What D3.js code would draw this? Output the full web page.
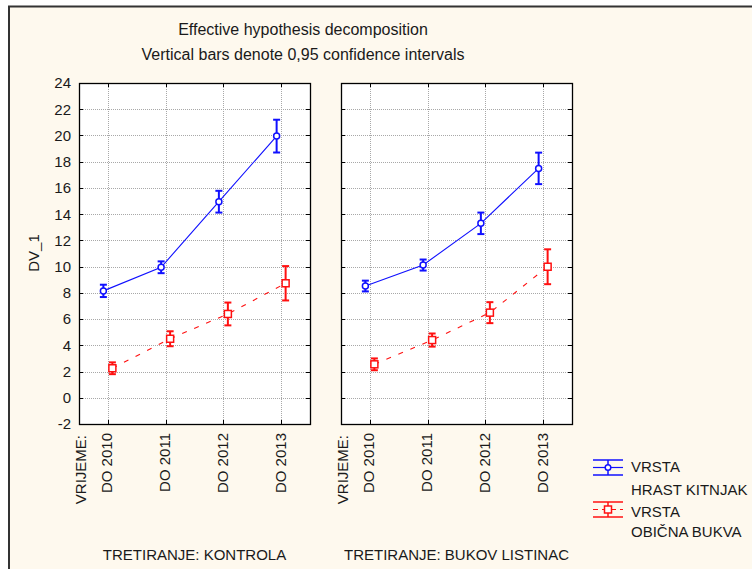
<!DOCTYPE html>
<html><head><meta charset="utf-8">
<script src="https://cdn.jsdelivr.net/npm/d3@7"></script>
<style>html,body{margin:0;padding:0;background:#fff;}svg{display:block;}text{font-family:"Liberation Sans",Arial,sans-serif;fill:#1a1a1a;}</style>
</head><body>
<script>
const categories = ["DO 2010", "DO 2011", "DO 2012", "DO 2013"];
const panelNames = ["TRETIRANJE: KONTROLA", "TRETIRANJE: BUKOV LISTINAC"];
const seriesNames = ["HRAST KITNJAK", "OBIČNA BUKVA"];
const kontrolaHrast = [8.15, 9.95, 14.95, 19.95];
const kontrolaHrastCI = [0.47, 0.45, 0.83, 1.25];
const kontrolaBukva = [2.25, 4.5, 6.39, 8.73];
const kontrolaBukvaCI = [0.45, 0.57, 0.87, 1.31];
const listinacHrast = [8.52, 10.12, 13.3, 17.49];
const listinacHrastCI = [0.41, 0.42, 0.82, 1.2];
const listinacBukva = [2.55, 4.4, 6.49, 9.99];
const listinacBukvaCI = [0.45, 0.5, 0.8, 1.33];
const yTicks = [-2, 0, 2, 4, 6, 8, 10, 12, 14, 16, 18, 20, 22, 24];
const titleLines = ["Effective hypothesis decomposition", "Vertical bars denote 0,95 confidence intervals"];

const W = 752, H = 569;
const svg = d3.select("body").append("svg").attr("width", W).attr("height", H);
svg.append("rect").attr("x", 0).attr("y", 0).attr("width", W).attr("height", H).attr("fill", "#fff");
svg.append("rect").attr("x", 9).attr("y", 6).attr("width", W - 9).attr("height", H - 6).attr("fill", "#FEF9EE");
svg.append("line").attr("x1", 9).attr("x2", 9).attr("y1", 6).attr("y2", H).attr("stroke", "#333").attr("stroke-width", 2);
svg.append("line").attr("x1", 8).attr("x2", W).attr("y1", 6.5).attr("y2", 6.5).attr("stroke", "#333").attr("stroke-width", 2);

svg.append("text").attr("x", 303).attr("y", 35).attr("text-anchor", "middle").attr("font-size", 16).text(titleLines[0]);
svg.append("text").attr("x", 303).attr("y", 60).attr("text-anchor", "middle").attr("font-size", 16).text(titleLines[1]);

const plotTop = 83, plotBottom = 424;
const y = d3.scaleLinear().domain([-2, 24]).range([plotBottom, plotTop]);
const colors = ["#1010ff", "#ff1010"];
const offsets = [-4.5, 4.5];

const panels = [
  {left: 79, right: 310, name: panelNames[0], series: [{v: kontrolaHrast, ci: kontrolaHrastCI}, {v: kontrolaBukva, ci: kontrolaBukvaCI}], labels: true},
  {left: 341, right: 572, name: panelNames[1], series: [{v: listinacHrast, ci: listinacHrastCI}, {v: listinacBukva, ci: listinacBukvaCI}], labels: false}
];

svg.append("text").attr("transform", "translate(39,253) rotate(-90)").attr("text-anchor", "middle").attr("font-size", 15).text("DV_1");

panels.forEach(p => {
  const x = d3.scaleBand().domain(categories).range([p.left, p.right]);
  const cx = c => x(c) + x.bandwidth() / 2;
  const g = svg.append("g");
  g.append("rect").attr("x", p.left + 0.5).attr("y", plotTop + 0.5).attr("width", p.right - p.left).attr("height", plotBottom - plotTop).attr("fill", "#fff");
  g.selectAll(".hg").data(yTicks.filter(t => t > -2 && t < 24)).enter().append("line")
    .attr("x1", p.left).attr("x2", p.right).attr("y1", d => Math.round(y(d)) + 0.5).attr("y2", d => Math.round(y(d)) + 0.5)
    .attr("stroke", "#a8a8a8").attr("stroke-dasharray", "1,1");
  g.selectAll(".vg").data(categories).enter().append("line")
    .attr("x1", d => Math.round(cx(d)) + 0.5).attr("x2", d => Math.round(cx(d)) + 0.5).attr("y1", plotTop).attr("y2", plotBottom)
    .attr("stroke", "#a8a8a8").attr("stroke-dasharray", "1,1");
  yTicks.forEach(t => {
    const yy = Math.round(y(t)) + 0.5;
    g.append("line").attr("x1", p.left).attr("x2", p.left + 4).attr("y1", yy).attr("y2", yy).attr("stroke", "#000");
    g.append("line").attr("x1", p.right - 4).attr("x2", p.right).attr("y1", yy).attr("y2", yy).attr("stroke", "#000");
  });
  categories.forEach(c => {
    const xx = Math.round(cx(c)) + 0.5;
    g.append("line").attr("x1", xx).attr("x2", xx).attr("y1", plotTop).attr("y2", plotTop + 4).attr("stroke", "#000");
    g.append("line").attr("x1", xx).attr("x2", xx).attr("y1", plotBottom - 4).attr("y2", plotBottom).attr("stroke", "#000");
  });
  g.append("rect").attr("x", p.left + 0.5).attr("y", plotTop + 0.5).attr("width", p.right - p.left).attr("height", plotBottom - plotTop)
    .attr("fill", "none").attr("stroke", "#000").attr("stroke-width", 1.3);
  if (p.labels) {
    g.selectAll(".yl").data(yTicks).enter().append("text")
      .attr("x", 71).attr("y", d => y(d)).attr("dy", "0.36em").attr("text-anchor", "end").attr("font-size", 15).text(d => d);
  }
  g.append("text").attr("transform", `translate(${p.left + 2},435) rotate(-90)`).attr("dy", "0.36em")
    .attr("text-anchor", "end").attr("font-size", 15).text("VRIJEME:");
  categories.forEach(c => {
    g.append("text").attr("transform", `translate(${cx(c) - 1},433) rotate(-90)`).attr("dy", "0.36em")
      .attr("text-anchor", "end").attr("font-size", 15).text(c);
  });
  g.append("text").attr("x", (p.left + p.right) / 2).attr("y", 560).attr("text-anchor", "middle").attr("font-size", 15).text(p.name);
  p.series.forEach((s, si) => {
    const pts = categories.map((c, i) => ({x: cx(c) + offsets[si], v: s.v[i], ci: s.ci[i]}));
    const line = d3.line().x(d => d.x).y(d => y(d.v));
    g.append("path").attr("d", line(pts)).attr("fill", "none").attr("stroke", colors[si]).attr("stroke-width", 1.1)
      .attr("stroke-dasharray", si === 1 ? "5,8" : null);
    pts.forEach(d => {
      const y1 = y(d.v + d.ci), y2 = y(d.v - d.ci);
      g.append("line").attr("x1", d.x).attr("x2", d.x).attr("y1", y1).attr("y2", y2).attr("stroke", colors[si]).attr("stroke-width", 2);
      g.append("line").attr("x1", d.x - 3.5).attr("x2", d.x + 3.5).attr("y1", y1).attr("y2", y1).attr("stroke", colors[si]).attr("stroke-width", 2);
      g.append("line").attr("x1", d.x - 3.5).attr("x2", d.x + 3.5).attr("y1", y2).attr("y2", y2).attr("stroke", colors[si]).attr("stroke-width", 2);
      if (si === 0) {
        g.append("circle").attr("cx", d.x).attr("cy", y(d.v)).attr("r", 3).attr("fill", "#fff").attr("stroke", colors[si]).attr("stroke-width", 1.5);
      } else {
        g.append("rect").attr("x", d.x - 3.5).attr("y", y(d.v) - 3.5).attr("width", 7).attr("height", 7).attr("fill", "#fff").attr("stroke", colors[si]).attr("stroke-width", 1.5);
      }
    });
  });
});

const legendRows = [{ys: 467.5, t1: 472, t2: 495}, {ys: 509.5, t1: 517, t2: 537}];
seriesNames.forEach((name, si) => {
  const r = legendRows[si];
  const lg = svg.append("g");
  const c = colors[si];
  lg.append("line").attr("x1", 593).attr("x2", 623).attr("y1", r.ys - 7.5).attr("y2", r.ys - 7.5).attr("stroke", c).attr("stroke-width", 1.5);
  lg.append("line").attr("x1", 593).attr("x2", 623).attr("y1", r.ys + 7.5).attr("y2", r.ys + 7.5).attr("stroke", c).attr("stroke-width", 1.5);
  lg.append("line").attr("x1", 608).attr("x2", 608).attr("y1", r.ys - 7.5).attr("y2", r.ys + 7.5).attr("stroke", c).attr("stroke-width", 1.5);
  lg.append("line").attr("x1", 593).attr("x2", 623).attr("y1", r.ys).attr("y2", r.ys).attr("stroke", c).attr("stroke-width", 1.2)
    .attr("stroke-dasharray", si === 1 ? "5,4" : null);
  if (si === 0) lg.append("circle").attr("cx", 608).attr("cy", r.ys).attr("r", 2.8).attr("fill", "#fff").attr("stroke", c).attr("stroke-width", 1.5);
  else lg.append("rect").attr("x", 604.5).attr("y", r.ys - 3.5).attr("width", 7).attr("height", 7).attr("fill", "#fff").attr("stroke", c).attr("stroke-width", 1.5);
  lg.append("text").attr("x", 631).attr("y", r.t1).attr("font-size", 15).text("VRSTA");
  lg.append("text").attr("x", 631).attr("y", r.t2).attr("font-size", 15).text(name);
});
</script>
</body></html>
